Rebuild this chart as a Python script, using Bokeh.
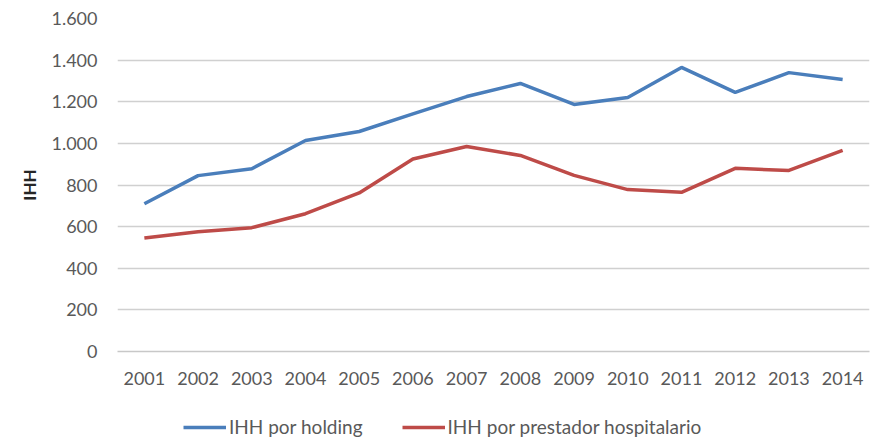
from bokeh.plotting import figure
from bokeh.layouts import column
from bokeh.models import Legend, LegendItem, FixedTicker, CustomJSTickFormatter, Range1d
from bokeh.embed import file_html
from bokeh.resources import INLINE

years = ["2001", "2002", "2003", "2004", "2005", "2006", "2007",
         "2008", "2009", "2010", "2011", "2012", "2013", "2014"]
holding = [710, 845, 878, 1014, 1057, 1142, 1225, 1288, 1187, 1220, 1365, 1245, 1340, 1307]
prestador = [545, 575, 595, 662, 762, 925, 985, 942, 846, 778, 765, 880, 870, 966]
y_ticks = [0, 200, 400, 600, 800, 1000, 1200, 1400, 1600]
series_names = ["IHH por holding", "IHH por prestador hospitalario"]
colors = ["#4a7ebb", "#be4b48"]

FONT = "Lato"
TXT = "#595959"

p = figure(width=887, height=399, x_range=years, y_range=Range1d(0, 1600),
           output_backend="svg", toolbar_location=None,
           min_border_left=117, min_border_right=18, min_border_top=18, min_border_bottom=48)
p.outline_line_color = None
p.background_fill_color = "white"

p.line(years, holding, line_color=colors[0], line_width=3.5)
p.line(years, prestador, line_color=colors[1], line_width=3.5)

p.yaxis.ticker = FixedTicker(ticks=y_ticks)
p.yaxis.formatter = CustomJSTickFormatter(code="return tick.toString().replace(/\\B(?=(\\d{3})+(?!\\d))/g, '.');")
p.yaxis.axis_line_color = None
p.yaxis.major_tick_line_color = None
p.yaxis.minor_tick_line_color = None
p.yaxis.major_label_text_font = FONT
p.yaxis.major_label_text_font_size = "18px"
p.yaxis.major_label_text_color = TXT
p.yaxis.major_label_standoff = 14
p.yaxis.axis_label = "IHH"
p.yaxis.axis_label_text_font = FONT
p.yaxis.axis_label_text_font_style = "bold"
p.yaxis.axis_label_text_font_size = "17px"
p.yaxis.axis_label_text_color = "#262626"
p.yaxis.axis_label_standoff = 8

p.xaxis.axis_line_color = "#c8c8c8"
p.xaxis.axis_line_width = 1.5
p.xaxis.major_tick_line_color = None
p.xaxis.minor_tick_line_color = None
p.xaxis.major_label_text_font = FONT
p.xaxis.major_label_text_font_size = "18px"
p.xaxis.major_label_text_color = TXT
p.xaxis.major_label_standoff = 14

p.xgrid.grid_line_color = None
p.ygrid.grid_line_color = "#d0d0d0"
p.ygrid.grid_line_width = 1.5

# legend strip below the chart: same series, drawn outside its (empty) visible range,
# so only the legend samples show
lg = figure(width=887, height=40, x_range=years, y_range=Range1d(-2, -1),
            output_backend="svg", toolbar_location=None,
            x_axis_type=None, y_axis_type=None,
            min_border_left=117, min_border_right=18, min_border_top=0, min_border_bottom=0)
lg.outline_line_color = None
lg.xgrid.grid_line_color = None
lg.ygrid.grid_line_color = None
k1 = lg.line(years, holding, line_color=colors[0], line_width=3.5)
k2 = lg.line(years, prestador, line_color=colors[1], line_width=3.5)
legend = Legend(items=[LegendItem(label=series_names[0], renderers=[k1]),
                       LegendItem(label=series_names[1], renderers=[k2])],
                orientation="horizontal", location=(66, 1),
                label_text_font=FONT, label_text_font_size="19px",
                label_text_color=TXT, glyph_width=43, label_standoff=3,
                label_height=18, glyph_height=18,
                spacing=39, border_line_color=None, background_fill_alpha=0,
                margin=0, padding=0)
lg.add_layout(legend, "center")

layout = column(p, lg, spacing=0)
open("out.html", "w").write(file_html(layout, INLINE))
